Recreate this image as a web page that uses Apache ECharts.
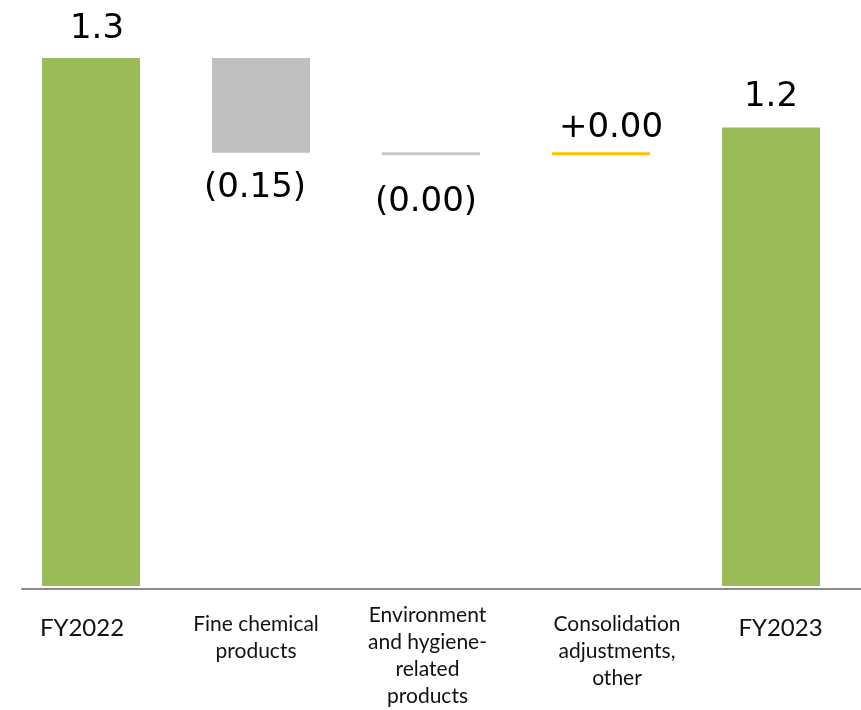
<!DOCTYPE html>
<html>
<head>
<meta charset="utf-8">
<script src="https://cdn.jsdelivr.net/npm/echarts@6/dist/echarts.min.js"></script>
<style>
  html, body { margin: 0; padding: 0; background: #ffffff; }
  #chart { width: 861px; height: 710px; }
</style>
</head>
<body>
<div id="chart"></div>
<script>
// ---- data ----
const categories = [
  'FY2022',
  'Fine chemical\nproducts',
  'Environment\nand hygiene-\nrelated\nproducts',
  'Consolidation\nadjustments,\nother',
  'FY2023'
];
const values = [1.30, -0.15, -0.004, 0.004, 1.19];
const kinds = ['total', 'delta', 'delta', 'delta', 'total'];

// ---- styles ----
const barColors = ['#9BBB59', '#BFBFBF', '#C8C8C8', '#FFC000', '#9BBB59'];
const labelPos = [
  { position: 'top', distance: 12, padding: [0, 0, 0, 12] },
  { position: 'bottom', distance: 19, padding: [0, 12, 0, 0] },
  { position: 'bottom', distance: 30, padding: [0, 10, 0, 0] },
  { position: 'top', distance: 7, padding: [0, 0, 0, 20] },
  { position: 'top', distance: 13, padding: [0, 0, 0, 0] }
];
const catStyles = [
  { fontSize: 24, padding: [13, 18, 0, 0] },
  { fontSize: 21, padding: [9, 10, 0, 0] },
  { fontSize: 21, padding: [0, 7, 0, 0] },
  { fontSize: 21, padding: [9, 0, 0, 32] },
  { fontSize: 24, padding: [13, 0, 0, 19] }
];

// ---- waterfall build ----
const baseData = [];
const visData = [];
let running = 0;
values.forEach((v, i) => {
  let base, vis;
  if (kinds[i] === 'total') {
    base = 0; vis = v; running = v;
  } else if (v < 0) {
    base = running + v; vis = -v; running += v;
  } else {
    base = running; vis = v; running += v;
  }
  baseData.push(base);
  visData.push({
    value: vis,
    itemStyle: { color: barColors[i] },
    label: Object.assign({}, labelPos[i])
  });
});

function fmt(v, kind) {
  if (kind === 'total') return v.toFixed(1);
  if (v < 0) return '(' + Math.abs(v).toFixed(2) + ')';
  return '+' + v.toFixed(2);
}

const chart = echarts.init(document.getElementById('chart'), null, { renderer: 'canvas' });
chart.setOption({
  animation: false,
  backgroundColor: '#ffffff',
  grid: [
    { left: 6, right: 5, top: 58, bottom: 121, containLabel: false },
    { left: 22, right: 0, top: 58, bottom: 121, containLabel: false }
  ],
  xAxis: [
    {
      type: 'category',
      gridIndex: 0,
      data: categories.map((c, i) => ({ value: c, textStyle: catStyles[i] })),
      axisLine: { show: false },
      axisTick: { show: false },
      axisLabel: {
        interval: 0,
        margin: 16,
        verticalAlign: 'top',
        lineHeight: 27,
        color: '#111111',
        fontFamily: 'Lato',
        fontSize: 21
      },
      splitLine: { show: false }
    },
    {
      type: 'value',
      gridIndex: 1,
      min: 0,
      max: 1,
      axisLine: { show: true, onZero: false, lineStyle: { color: '#8C8C8C', width: 2 } },
      axisTick: { show: false },
      axisLabel: { show: false },
      splitLine: { show: false }
    }
  ],
  yAxis: [
    {
      type: 'value',
      gridIndex: 0,
      min: 0.4632,
      max: 1.3,
      show: false,
      splitLine: { show: false }
    },
    {
      type: 'value',
      gridIndex: 1,
      min: 0,
      max: 1,
      show: false,
      splitLine: { show: false }
    }
  ],
  series: [
    {
      type: 'bar',
      stack: 'w',
      silent: true,
      barWidth: 98,
      clip: true,
      itemStyle: { color: 'transparent' },
      label: { show: false },
      data: baseData
    },
    {
      type: 'bar',
      stack: 'w',
      barWidth: 98,
      barMinHeight: 3,
      clip: true,
      z: 3,
      label: {
        show: true,
        fontFamily: 'DejaVu Sans',
        fontSize: 34,
        color: '#000000',
        formatter: (p) => fmt(values[p.dataIndex], kinds[p.dataIndex])
      },
      data: visData
    }
  ]
});
</script>
</body>
</html>
